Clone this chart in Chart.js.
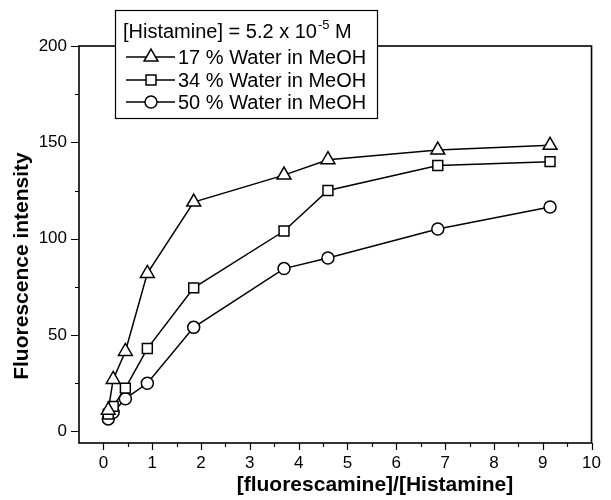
<!DOCTYPE html>
<html>
<head>
<meta charset="utf-8">
<script src="https://cdn.jsdelivr.net/npm/chart.js@4.4.0/dist/chart.umd.min.js"></script>
<style>
  html, body { margin: 0; padding: 0; background: #fff; }
  #wrap { width: 611px; height: 500px; }
</style>
</head>
<body>
<div id="wrap"><canvas id="myChart"></canvas></div>
<script>
// data
const ratios = [0.1, 0.2, 0.45, 0.9, 1.85, 3.7, 4.6, 6.85, 9.15];
const water17 = [11, 27, 41.5, 82, 119, 133, 141, 146, 148.5];
const water34 = [9, 13, 22.5, 43, 74.5, 104, 125, 138, 140];
const water50 = [6.5, 10, 17, 25, 54, 84.5, 90, 105, 116.5];
const seriesNames = ["17 % Water in MeOH", "34 % Water in MeOH", "50 % Water in MeOH"];
const pointStyles = ["triangle", "rect", "circle"];
const xTicks = [0, 1, 2, 3, 4, 5, 6, 7, 8, 9, 10];
const yTicks = [0, 50, 100, 150, 200];
const legendHeader = "[Histamine] = 5.2 x 10";

const FONT = "'Liberation Sans', Arial, sans-serif";

function makeSet(i, values, radius) {
  return {
    label: seriesNames[i],
    data: ratios.map((x, k) => ({ x: x, y: values[k] })),
    borderColor: "#000",
    borderWidth: 1.5,
    pointStyle: pointStyles[i],
    pointRadius: radius,
    pointBackgroundColor: "#fff",
    pointBorderColor: "#000",
    pointBorderWidth: 1.5,
    fill: false,
    tension: 0
  };
}

// frame, tick marks, axis titles and the boxed legend
const framePlugin = {
  id: "framePlugin",
  afterDatasetsDraw(chart) {
    const ctx = chart.ctx;
    const a = chart.chartArea;
    const xs = chart.scales.x;
    const ys = chart.scales.y;
    ctx.save();
    ctx.strokeStyle = "#000";
    ctx.lineWidth = 1.6;
    ctx.strokeRect(a.left, a.top, a.right - a.left, a.bottom - a.top);

    ctx.lineWidth = 1.2;
    ctx.beginPath();
    for (let v = 0; v <= 10; v += 0.5) {
      const px = Math.round(xs.getPixelForValue(v)) + 0.5;
      const len = Number.isInteger(v) ? 7 : 4;
      ctx.moveTo(px, a.bottom);
      ctx.lineTo(px, a.bottom + len);
    }
    for (let v = 0; v <= 200; v += 25) {
      const py = Math.round(ys.getPixelForValue(v)) + 0.5;
      const len = v % 50 === 0 ? 8 : 4;
      ctx.moveTo(a.left, py);
      ctx.lineTo(a.left - len, py);
    }
    ctx.stroke();

    // axis titles
    ctx.fillStyle = "#000";
    ctx.font = "bold 21px " + FONT;
    ctx.textAlign = "center";
    ctx.textBaseline = "middle";
    ctx.fillText("[fluorescamine]/[Histamine]", 375, 485);
    ctx.translate(22, 266);
    ctx.rotate(-Math.PI / 2);
    ctx.fillText("Fluorescence intensity", 0, 0);
    ctx.restore();
  },
  afterDraw(chart) {
    const ctx = chart.ctx;
    ctx.save();
    ctx.fillStyle = "#fff";
    ctx.fillRect(115, 10, 262, 108);
    ctx.strokeStyle = "#000";
    ctx.lineWidth = 1.2;
    ctx.strokeRect(115.5, 10.5, 262, 108);

    ctx.fillStyle = "#000";
    ctx.textBaseline = "middle";
    ctx.textAlign = "left";
    ctx.font = "20px " + FONT;
    ctx.fillText(legendHeader, 123, 32);
    let w = ctx.measureText(legendHeader).width;
    ctx.font = "13px " + FONT;
    ctx.fillText("-5", 123 + w + 1, 25);
    let w2 = ctx.measureText("-5").width;
    ctx.font = "20px " + FONT;
    ctx.fillText(" M", 123 + w + w2 + 1, 32);

    const rowY = [57, 80, 102];
    chart.data.datasets.forEach((ds, i) => {
      const y = rowY[i];
      ctx.strokeStyle = "#000";
      ctx.lineWidth = 1.5;
      ctx.beginPath();
      ctx.moveTo(126, y);
      ctx.lineTo(175, y);
      ctx.stroke();
      ctx.fillStyle = "#fff";
      ctx.lineWidth = 1.5;
      Chart.helpers.drawPoint(ctx, {
        pointStyle: ds.pointStyle,
        radius: ds.pointRadius,
        borderWidth: 1.5,
        rotation: 0
      }, 151, y);
      ctx.fillStyle = "#000";
      ctx.font = "20px " + FONT;
      ctx.fillText(ds.label, 178, y + 1);
    });
    ctx.restore();
  }
};

new Chart("myChart", {
  type: "line",
  data: {
    datasets: [
      makeSet(0, water17, 8),
      makeSet(1, water34, 7),
      makeSet(2, water50, 6)
    ]
  },
  options: {
    responsive: true,
    maintainAspectRatio: false,
    animation: false,
    layout: { padding: { top: 46, right: 11, left: 0, bottom: 0 } },
    plugins: {
      legend: { display: false },
      tooltip: { enabled: false }
    },
    scales: {
      x: {
        type: "linear",
        min: -0.5,
        max: 10,
        afterBuildTicks: (scale) => { scale.ticks = xTicks.map(v => ({ value: v })); },
        afterFit: (scale) => { scale.height = 57; },
        grid: { display: false, drawTicks: false },
        border: { display: false },
        ticks: { color: "#000", font: { family: FONT, size: 17 }, padding: 10, maxRotation: 0, autoSkip: false }
      },
      y: {
        type: "linear",
        min: -6,
        max: 200,
        afterBuildTicks: (scale) => { scale.ticks = yTicks.map(v => ({ value: v })); },
        afterFit: (scale) => { scale.width = 79; },
        grid: { display: false, drawTicks: false },
        border: { display: false },
        ticks: { color: "#000", font: { family: FONT, size: 17 }, padding: 12 }
      }
    }
  },
  plugins: [framePlugin]
});
</script>
</body>
</html>
